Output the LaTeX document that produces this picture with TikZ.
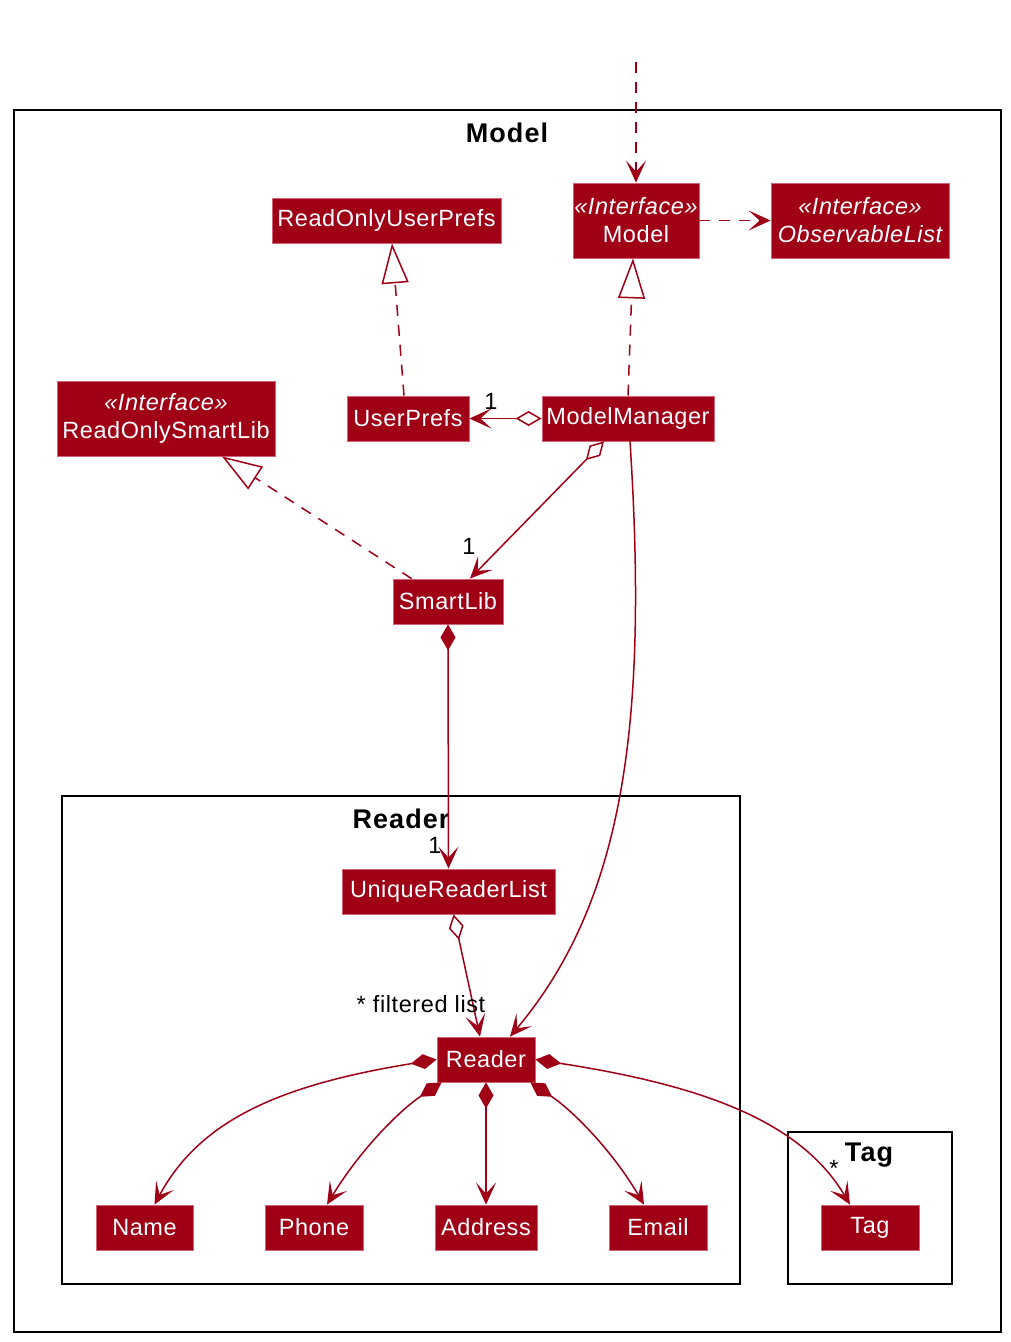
\documentclass[tikz,border=0pt]{standalone}
\usepackage{fontspec}
\setmainfont{Liberation Sans}
\newfontfamily\boxfont{Liberation Sans}[LetterSpace=2.5]
\newfontfamily\pkgfont{Liberation Sans}[LetterSpace=4]
\usetikzlibrary{arrows.meta,calc}
\definecolor{cls}{RGB}{160,0,22}
\definecolor{clsb}{RGB}{210,100,120}
\begin{document}
\begin{tikzpicture}[x=1pt,y=-1pt,
  box/.style={draw=clsb, line width=0.8pt, fill=cls, text=white, inner sep=0pt, minimum height=45pt,
    align=center, font=\boxfont\fontsize{23.5}{28}\selectfont},
  pkg/.style={draw=black, line width=2.4pt, inner sep=0pt},
  pkglabel/.style={font=\pkgfont\bfseries\fontsize{27}{30}\selectfont, inner sep=0pt},
  lbl/.style={font=\boxfont\fontsize{23.5}{26}\selectfont, inner sep=0pt},
  dep/.style={draw=cls, line width=1.5pt, dash pattern=on 11pt off 9pt, -{Stealth[length=22pt,width=20pt,inset=11pt]}},
  real/.style={draw=cls, line width=1.5pt, dash pattern=on 11pt off 9pt, -{Triangle[open,fill=white,length=40pt,width=27pt]}},
  agg/.style={draw=cls, line width=1.5pt, {Diamond[open,fill=white,length=26pt,width=15pt]}-{Stealth[length=22pt,width=20pt,inset=11pt]}},
  comp/.style={draw=cls, line width=1.5pt, {Diamond[length=26pt,width=15pt]}-{Stealth[length=22pt,width=20pt,inset=11pt]}},
  assoc/.style={draw=cls, line width=1.5pt, -{Stealth[length=22pt,width=20pt,inset=11pt]}},
]
\useasboundingbox (0,0) rectangle (1010,1342);
\fill[white] (0,0) rectangle (1010,1342);

% packages
\node[pkg, minimum width=987pt, minimum height=1222pt] (pmodel) at (507.5,721) {};
\node[pkglabel] (lmodel) at (507,133) {Model};
\node[pkg, minimum width=678pt, minimum height=488pt] (preader) at (401,1040) {};
\node[pkglabel] (lreader) at (401,819) {Reader};
\node[pkg, minimum width=164pt, minimum height=152pt] (ptag) at (870,1208) {};
\node[pkglabel] (ltag) at (869,1155) {Tag};

% classes
\node[box, minimum width=229pt] (roup) at (386.5,220.5) {ReadOnlyUserPrefs};
\node[box, minimum width=126pt, minimum height=75pt] (model) at (636,220.5) {{\itshape «Interface»}\\Model};
\node[box, minimum width=178pt, minimum height=75pt] (obs) at (860,220.5) {{\itshape «Interface»}\\{\itshape ObservableList}};
\node[box, minimum width=218pt, minimum height=75pt] (rosl) at (166,418.5) {{\itshape «Interface»}\\ReadOnlySmartLib};
\node[box, minimum width=122pt] (up) at (408,418.5) {UserPrefs};
\node[box, minimum width=172pt] (mm) at (628,418.5) {ModelManager};
\node[box, minimum width=110pt] (sl) at (448,601.5) {SmartLib};
\node[box, minimum width=213pt] (url) at (448.5,891.5) {UniqueReaderList};
\node[box, minimum width=98pt] (reader) at (486,1059.5) {Reader};
\node[box, minimum width=97pt] (name) at (144.5,1227.5) {Name};
\node[box, minimum width=98pt] (phone) at (314,1227.5) {Phone};
\node[box, minimum width=102pt] (address) at (486,1227.5) {Address};
\node[box, minimum width=98pt] (email) at (658,1227.5) {Email};
\node[box, minimum width=98pt] (tag) at (870,1227.5) {Tag};

\coordinate (topin) at (636,62);

% connectors
\draw[dep] (topin) -- (model.north);
\draw[dep] (model.east) -- (obs.west);
\draw[real] (mm.north) -- ($(model.south)+(-3,0)$);
\draw[real] ($(up.north)+(-4,0)$) -- ($(roup.south)+(5.5,0)$);
\draw[real] ($(sl.north west)+(19,0)$) -- ($(rosl.south)+(56,0)$);
\draw[agg] (mm.west) -- (up.east);
\draw[agg] ($(mm.south)+(-24,0)$) -- ($(sl.north)+(22,0)$);
\draw[assoc] ($(mm.south)+(2,0)$) .. controls (648,720) and (625,900) .. ($(reader.north)+(24,0)$);
\draw[comp] (sl.south) -- (url.north);
\draw[agg] ($(url.south)+(5,0)$) -- ($(reader.north)+(-6,0)$);
\draw[comp] (reader.west) .. controls (280,1085) and (200,1120) .. ($(name.north)+(10,0)$);
\draw[comp] ($(reader.south west)+(5,0)$) .. controls (400,1110) and (360,1150) .. ($(phone.north)+(13,0)$);
\draw[comp] (reader.south) -- (address.north);
\draw[comp] ($(reader.south east)+(-5,0)$) .. controls (572,1110) and (612,1150) .. ($(email.north)+(-14,0)$);
\draw[comp] (reader.east) .. controls (700,1085) and (800,1120) .. ($(tag.north)+(-20,0)$);

% multiplicity labels
\node[lbl] (m1) at (491,401) {1};
\node[lbl] (m2) at (469,546) {1};
\node[lbl] (m3) at (435,845) {1};
\node[lbl] (m4) at (421,1004) {* filtered list};
\node[lbl] (m5) at (834,1168) {*};
\end{tikzpicture}
\end{document}
